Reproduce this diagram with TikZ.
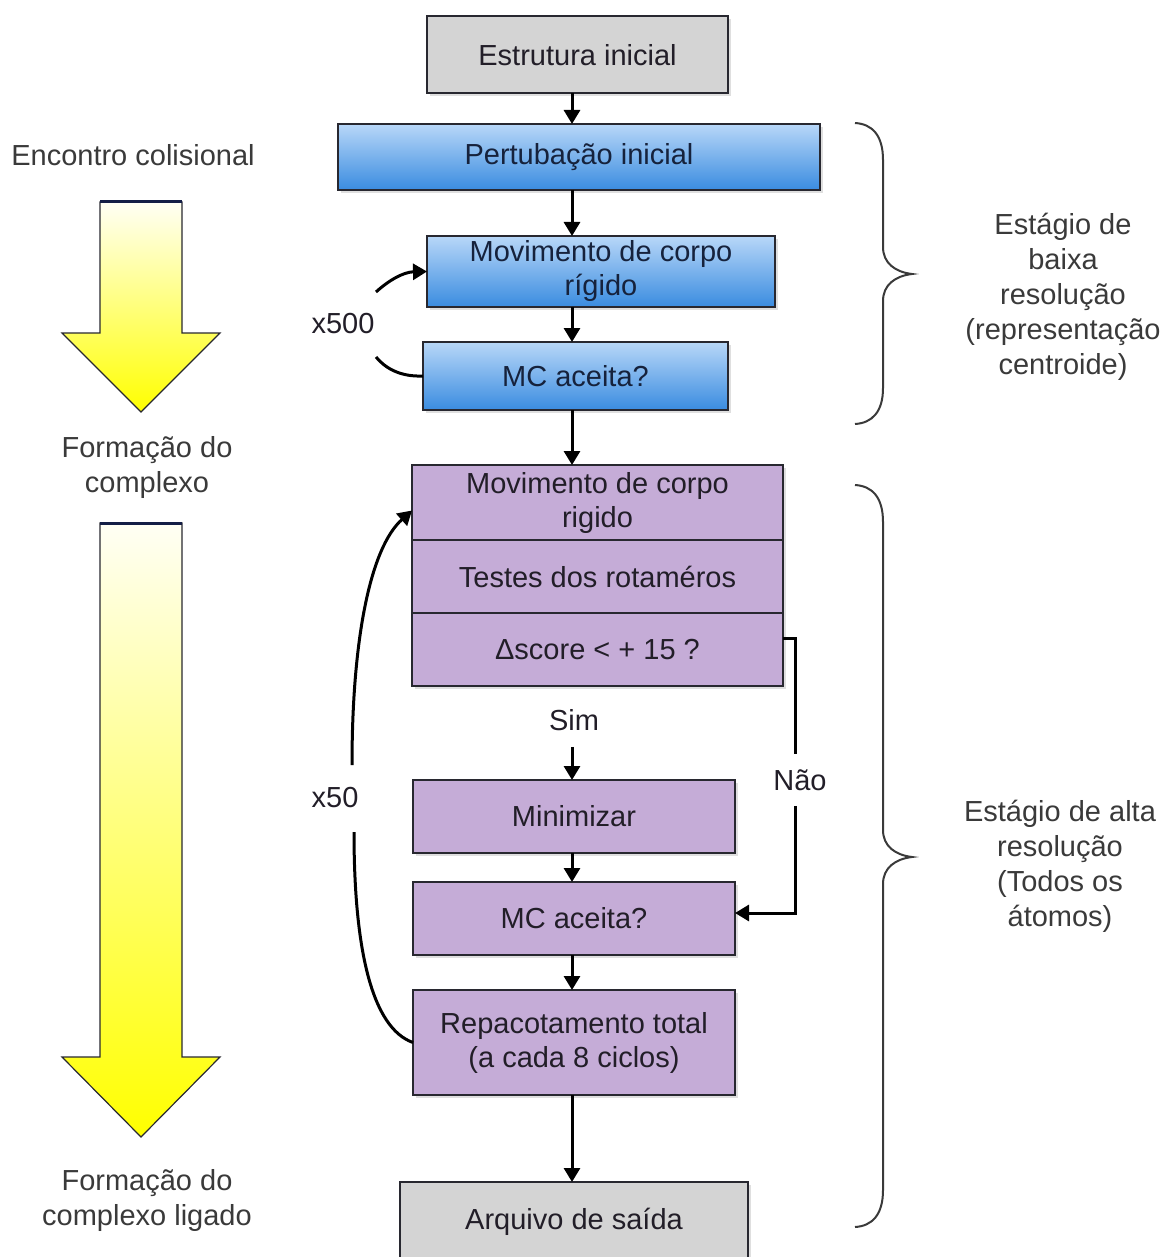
\documentclass[tikz,border=0pt]{standalone}
\usepackage{fontspec}
\setmainfont{Liberation Sans}
\usetikzlibrary{arrows.meta,shadows,calc}

\definecolor{boxgray}{RGB}{212,212,212}
\definecolor{bluetop}{RGB}{184,215,248}
\definecolor{bluebot}{RGB}{58,140,224}
\definecolor{lilac}{RGB}{197,172,215}
\definecolor{ink}{RGB}{34,30,40}
\definecolor{navytext}{RGB}{22,34,60}
\definecolor{labelgray}{RGB}{58,58,58}
\definecolor{edge}{RGB}{40,40,48}
\definecolor{shafttop}{RGB}{20,30,70}

\tikzset{
  base/.style={draw=edge, line width=2pt, inner sep=0pt, outer sep=0pt,
    align=center, font=\fontsize{29}{34}\selectfont,
    drop shadow={shadow xshift=3pt, shadow yshift=-3pt, opacity=0.25}},
  graybox/.style={base, fill=boxgray, text=ink},
  bluebox/.style={base, top color=bluetop, bottom color=bluebot, text=navytext},
  lilacbox/.style={base, fill=lilac, text=ink},
  flow/.style={line width=3pt, draw=black},
  arr/.style={flow, -{Triangle[width=16pt,length=14pt]}},
  side/.style={align=center, text=labelgray, font=\fontsize{29}{35}\selectfont, inner sep=0pt},
  note/.style={text=ink, font=\fontsize{29}{34}\selectfont, inner sep=0pt},
  brace/.style={line width=2pt, draw=labelgray},
  bigarrow/.style={draw=edge, line width=1.2pt, top color=yellow!4, bottom color=yellow, line join=miter}
}

\begin{document}
\begin{tikzpicture}[x=1pt, y=-1pt]
\useasboundingbox (0,0) rectangle (1164,1257);

% progress arrows on the left
\shade[bigarrow] (100,202) -- (182,202) -- (182,333) -- (220,333) -- (141,412)
  -- (62,333) -- (100,333) -- cycle;
\draw[line width=3pt, shafttop] (100,202) -- (182,202);
\shade[bigarrow] (100,523) -- (182,523) -- (182,1057) -- (220,1057) -- (141,1137)
  -- (62,1057) -- (100,1057) -- cycle;
\draw[line width=3pt, shafttop] (100,523) -- (182,523);

\node[side] (enc) at (133,155) {Encontro colisional};
\node[side] (form1) at (147,467) {Formação do\\complexo};
\node[side] (form2) at (147,1200) {Formação do\\complexo ligado};

% stage braces
\draw[brace] (855,123) .. controls (872,124) and (883,135) .. (883,160) -- (883,247)
  .. controls (883,263) and (895,272) .. (912,274)
  .. controls (895,276) and (883,285) .. (883,301) -- (883,388)
  .. controls (883,412) and (872,423) .. (855,424);
\draw[brace] (855,485) .. controls (872,486) and (883,497) .. (883,522) -- (883,830)
  .. controls (883,846) and (895,855) .. (912,857)
  .. controls (895,859) and (883,868) .. (883,884) -- (883,1190)
  .. controls (883,1215) and (872,1226) .. (855,1227);

\node[side] (low) at (1063,297) {Estágio de\\baixa\\resolução\\(representação\\centroide)};
\node[side] (high) at (1060,866) {Estágio de alta\\resolução\\(Todos os\\átomos)};

% flow boxes
\coordinate (spine) at (572,0);
\node[graybox, minimum width=301pt, minimum height=77pt] (ini) at (577.5,55) {Estrutura inicial};
\node[bluebox, minimum width=482pt, minimum height=66pt] (pert) at (579,157) {Pertubação inicial};
\node[bluebox, minimum width=348pt, minimum height=71pt] (mov1) at (601,271.5) {Movimento de corpo\\rígido};
\node[bluebox, minimum width=305pt, minimum height=68pt] (mc1) at (575.5,376) {MC aceita?};

\node[lilacbox, minimum width=371pt, minimum height=75pt] (r1) at (597.5,502.5) {Movimento de corpo\\rigido};
\node[lilacbox, minimum width=371pt, minimum height=73pt] (r2) at (597.5,576.5) {Testes dos rotaméros};
\node[lilacbox, minimum width=371pt, minimum height=73pt] (r3) at (597.5,649.5) {Δscore < + 15 ?};

\node[lilacbox, minimum width=322pt, minimum height=73pt] (min) at (574,816.5) {Minimizar};
\node[lilacbox, minimum width=322pt, minimum height=73pt] (mc2) at (574,918.5) {MC aceita?};
\node[lilacbox, minimum width=322pt, minimum height=105pt] (rep) at (574,1042.5) {Repacotamento total\\(a cada 8 ciclos)};
\node[graybox, minimum width=348pt, minimum height=80pt] (out) at (574,1222) {Arquivo de saída};

% main flow connectors
\draw[arr] (ini.south -| spine) -- (pert.north -| spine);
\draw[arr] (pert.south -| spine) -- (mov1.north -| spine);
\draw[arr] (mov1.south -| spine) -- (mc1.north -| spine);
\draw[arr] (mc1.south -| spine) -- (r1.north -| spine);
\node[note] (sim) at (574,720) {Sim};
\draw[arr] ($(sim.south -| spine)+(0,16)$) -- (min.north -| spine);
\draw[arr] (min.south -| spine) -- (mc2.north -| spine);
\draw[arr] (mc2.south -| spine) -- (rep.north -| spine);
\draw[arr] (rep.south -| spine) -- (out.north -| spine);

% rejection branch
\node[note, inner ysep=15pt] (nao) at (800,780) {Não};
\coordinate (nr) at (795,638);
\coordinate (nb) at (795,913);
\draw[flow] (r3.east |- nr) -- (nr) -- (nao.north -| nr);
\draw[arr] (nao.south -| nr) -- (nb) -- (mc2.east |- nb);

% low resolution loop
\node[note] (x500) at (343,324) {x500};
\coordinate (x500up) at (376,292);
\coordinate (x500dn) at (376,357);
\draw[arr] (x500up) .. controls (388,281) and (403,272) .. (mov1.west);
\draw[flow] (mc1.west) .. controls (400,377) and (385,368) .. (x500dn);

% high resolution loop
\node[note] (x50) at (335,798) {x50};
\coordinate (x50up) at (352,765);
\coordinate (x50dn) at (354,832);
\draw[arr] (x50up) .. controls (352,640) and (370,548) .. ($(r1.west)+(0,8)$);
\draw[flow] (rep.west) .. controls (372,1028) and (354,950) .. (x50dn);
\end{tikzpicture}
\end{document}
